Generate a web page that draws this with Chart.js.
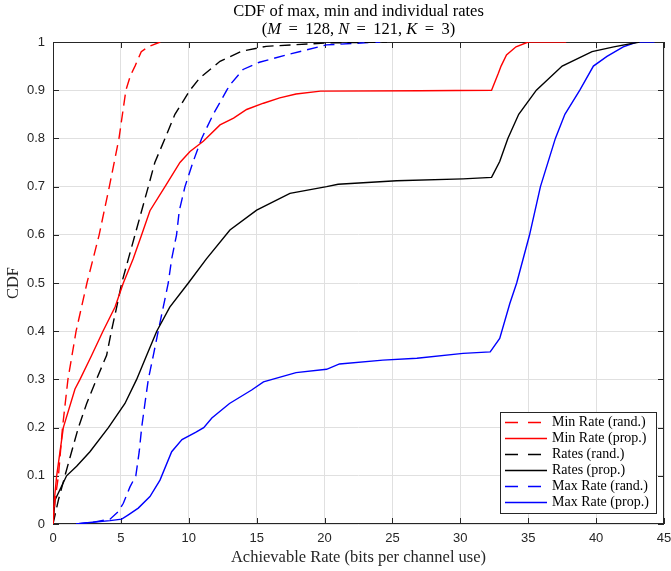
<!DOCTYPE html>
<html>
<head>
<meta charset="utf-8">
<script src="https://cdn.jsdelivr.net/npm/chart.js@4.4.1/dist/chart.umd.min.js"></script>
<style>
    html, body { margin: 0; padding: 0; background: #fff; }
    #wrap { width: 671px; height: 571px; }
</style>
</head>
<body>
<div id="wrap"><canvas id="cdfChart" width="671" height="571"></canvas></div>
<script>
// values (x = rate, y = CDF)
const minRandX = [0, 0.15, 0.4, 0.7, 1.1, 1.7, 2.5, 3.4, 4.15, 4.86, 5.37, 5.7, 6.04, 6.5, 7.0, 7.9];
const minRandY = [0, 0.05, 0.1, 0.2, 0.3, 0.4, 0.5, 0.6, 0.7, 0.8, 0.9, 0.93, 0.95, 0.98, 0.99, 1.0];

const minPropX = [0, 0.1, 0.27, 0.76, 1.62, 1.99, 2.85, 3.68, 4.57, 5.18, 5.9, 6.53, 7.14, 8.25, 9.35, 10.09, 11.07, 12.3, 13.3, 14.26, 15.5, 16.7, 17.9, 19.7, 27.0, 32.3, 32.8, 33.0, 33.4, 34.1, 35.0, 37.8];
const minPropY = [0, 0.05, 0.1, 0.2, 0.28, 0.3, 0.35, 0.4, 0.45, 0.5, 0.55, 0.6, 0.65, 0.7, 0.75, 0.773, 0.794, 0.828, 0.842, 0.86, 0.873, 0.884, 0.892, 0.898, 0.899, 0.9, 0.935, 0.95, 0.973, 0.99, 1.0, 1.0];

const ratesRandX = [0, 0.4, 0.88, 1.37, 1.87, 2.48, 3.2, 3.95, 4.3, 4.69, 5.06, 5.55, 6.04, 6.53, 7.02, 7.5, 8.25, 8.98, 10.09, 10.8, 12.3, 13.9, 15.7, 20.15, 24.6];
const ratesRandY = [0, 0.05, 0.1, 0.15, 0.2, 0.25, 0.3, 0.35, 0.4, 0.45, 0.5, 0.55, 0.6, 0.65, 0.7, 0.75, 0.8, 0.85, 0.9, 0.925, 0.96, 0.981, 0.991, 0.998, 1.0];

const ratesPropX = [0, 0.15, 1.0, 1.74, 2.72, 4.08, 5.3, 6.16, 6.9, 7.64, 8.6, 9.97, 11.3, 13.03, 15.0, 17.45, 20.15, 21.0, 25.3, 30.2, 32.3, 32.9, 33.5, 34.3, 35.6, 37.5, 39.7, 41.3, 43.2];
const ratesPropY = [0, 0.05, 0.1, 0.12, 0.15, 0.2, 0.25, 0.3, 0.35, 0.4, 0.45, 0.5, 0.55, 0.61, 0.651, 0.686, 0.7, 0.705, 0.712, 0.716, 0.719, 0.752, 0.8, 0.85, 0.9, 0.95, 0.98, 0.99, 1.0];

const maxRandX = [1.7, 3.0, 4.2, 4.81, 5.18, 5.67, 6.1, 6.35, 6.53, 6.77, 7.02, 7.39, 7.75, 8.12, 8.49, 8.74, 9.1, 9.3, 9.72, 10.3, 10.95, 11.8, 12.8, 13.03, 14.0, 15.2, 17.45, 20.15, 24.1];
const maxRandY = [0, 0.004, 0.01, 0.026, 0.043, 0.077, 0.1, 0.15, 0.2, 0.25, 0.3, 0.35, 0.4, 0.45, 0.5, 0.55, 0.6, 0.65, 0.7, 0.75, 0.8, 0.85, 0.9, 0.911, 0.943, 0.958, 0.975, 0.994, 1.0];

const maxPropX = [1.7, 2.72, 4.2, 5.06, 5.55, 6.28, 7.14, 7.88, 8.74, 9.5, 10.5, 11.1, 11.7, 13.0, 14.63, 15.5, 17.9, 20.15, 21.1, 24.3, 26.8, 30.2, 32.2, 32.9, 33.65, 34.15, 35.1, 35.9, 37.0, 37.7, 38.8, 39.8, 40.8, 42.0, 43.0, 44.3];
const maxPropY = [0, 0.003, 0.007, 0.01, 0.019, 0.033, 0.057, 0.091, 0.15, 0.175, 0.19, 0.2, 0.22, 0.25, 0.278, 0.295, 0.314, 0.321, 0.332, 0.34, 0.344, 0.354, 0.357, 0.385, 0.458, 0.5, 0.6, 0.7, 0.8, 0.85, 0.9, 0.95, 0.97, 0.99, 1.0, 1.0];

const seriesLabels = ['Min Rate (rand.)', 'Min Rate (prop.)', 'Rates (rand.)', 'Rates (prop.)', 'Max Rate (rand.)', 'Max Rate (prop.)'];
const xTicks = [0, 5, 10, 15, 20, 25, 30, 35, 40, 45];
const yTicks = [0, 0.1, 0.2, 0.3, 0.4, 0.5, 0.6, 0.7, 0.8, 0.9, 1];

// title pieces: [text, italic?]
const titleLine1 = 'CDF of max, min and individual rates';
const titleLine2 = [['(', false], ['M', true], [' \u2009=\u2009 128, ', false], ['N', true], [' \u2009=\u2009 121, ', false], ['K', true], [' \u2009=\u2009 3)', false]];

const serif = '"Liberation Serif", "DejaVu Serif", serif';
const sans = '"Liberation Sans", Arial, sans-serif';
const axisColor = '#262626';
const dashed = [11, 6];

function toPoints(xs, ys) {
    return xs.map((x, i) => ({ x: x, y: ys[i] }));
}

const styles = [
    { color: '#ff0000', dash: dashed },
    { color: '#ff0000', dash: [] },
    { color: '#000000', dash: dashed },
    { color: '#000000', dash: [] },
    { color: '#0000ff', dash: dashed },
    { color: '#0000ff', dash: [] }
];
const seriesData = [
    toPoints(minRandX, minRandY),
    toPoints(minPropX, minPropY),
    toPoints(ratesRandX, ratesRandY),
    toPoints(ratesPropX, ratesPropY),
    toPoints(maxRandX, maxRandY),
    toPoints(maxPropX, maxPropY)
];

const datasets = seriesData.map((pts, i) => ({
    label: seriesLabels[i],
    data: pts,
    borderColor: styles[i].color,
    borderDash: styles[i].dash,
    borderWidth: 1.4,
    pointRadius: 0,
    fill: false,
    tension: 0
}));

// title drawn by hand so the math letters can be italic
const mathTitle = {
    id: 'mathTitle',
    afterDraw(chart) {
        const { ctx, chartArea: a } = chart;
        const cx = (a.left + a.right) / 2;
        ctx.save();
        ctx.fillStyle = '#000';
        ctx.textBaseline = 'middle';
        ctx.textAlign = 'center';
        ctx.font = '16.5px ' + serif;
        ctx.fillText(titleLine1, cx, 12);

        ctx.textAlign = 'left';
        let total = 0;
        titleLine2.forEach(([t, it]) => {
            ctx.font = (it ? 'italic ' : '') + '16.5px ' + serif;
            total += ctx.measureText(t).width;
        });
        let x = cx - total / 2;
        titleLine2.forEach(([t, it]) => {
            ctx.font = (it ? 'italic ' : '') + '16.5px ' + serif;
            ctx.fillText(t, x, 30);
            x += ctx.measureText(t).width;
        });
        ctx.restore();
    }
};

// MATLAB style box with inward ticks on all four sides
const axesBox = {
    id: 'axesBox',
    beforeDatasetsDraw(chart) {
        const { ctx, chartArea: a, scales } = chart;
        const len = 6;
        ctx.save();
        ctx.strokeStyle = axisColor;
        ctx.lineWidth = 1;
        ctx.beginPath();
        scales.x.ticks.forEach(t => {
            const px = Math.round(scales.x.getPixelForValue(t.value)) + 0.5;
            ctx.moveTo(px, a.bottom); ctx.lineTo(px, a.bottom - len);
            ctx.moveTo(px, a.top); ctx.lineTo(px, a.top + len);
        });
        scales.y.ticks.forEach(t => {
            const py = Math.round(scales.y.getPixelForValue(t.value)) + 0.5;
            ctx.moveTo(a.left, py); ctx.lineTo(a.left + len, py);
            ctx.moveTo(a.right, py); ctx.lineTo(a.right - len, py);
        });
        ctx.stroke();
        ctx.strokeRect(a.left + 0.5, a.top + 0.5, a.width - 1, a.height - 1);
        ctx.restore();
    }
};

// legend box inside the lower right corner
const boxLegend = {
    id: 'boxLegend',
    afterDatasetsDraw(chart) {
        const { ctx, chartArea: a } = chart;
        const w = 156, h = 101, rowH = 16.1;
        const x0 = a.right - 8 - w, y0 = a.bottom - 11 - h;
        ctx.save();
        ctx.fillStyle = '#fff';
        ctx.fillRect(x0, y0, w, h);
        ctx.strokeStyle = axisColor;
        ctx.lineWidth = 1;
        ctx.strokeRect(x0 + 0.5, y0 + 0.5, w, h);
        chart.data.datasets.forEach((ds, i) => {
            const y = Math.round(y0 + 9.7 + i * rowH) + 0.5;
            ctx.strokeStyle = ds.borderColor;
            ctx.lineWidth = 1.4;
            ctx.setLineDash(ds.borderDash.length ? [13, 10] : []);
            ctx.beginPath();
            ctx.moveTo(x0 + 5, y);
            ctx.lineTo(x0 + 47, y);
            ctx.stroke();
            ctx.setLineDash([]);
            ctx.fillStyle = '#000';
            ctx.font = '14px ' + serif;
            ctx.textBaseline = 'middle';
            ctx.fillText(ds.label, x0 + 52, y);
        });
        ctx.restore();
    }
};

const ctx = document.getElementById('cdfChart').getContext('2d');
const cdfChart = new Chart(ctx, {
    type: 'line',
    data: { datasets: datasets },
    options: {
        responsive: false,
        animation: false,
        layout: { padding: { left: 0, right: 7, top: 42, bottom: 0 } },
        plugins: {
            legend: { display: false },
            title: { display: false },
            tooltip: { enabled: false }
        },
        scales: {
            x: {
                type: 'linear',
                min: 0,
                max: 45,
                afterBuildTicks: s => { s.ticks = xTicks.map(v => ({ value: v })); },
                ticks: {
                    color: axisColor,
                    font: { family: sans, size: 13 },
                    padding: 7,
                    maxRotation: 0,
                    callback: v => String(v)
                },
                grid: { color: '#e0e0e0', drawTicks: false },
                border: { display: false },
                title: {
                    display: true,
                    text: 'Achievable Rate (bits per channel use)',
                    color: axisColor,
                    font: { family: serif, size: 16.5 },
                    padding: { top: 0, bottom: 3 }
                },
                afterFit: s => { s.height = 47; s.paddingLeft = 0; s.paddingRight = 0; }
            },
            y: {
                type: 'linear',
                min: 0,
                max: 1,
                afterBuildTicks: s => { s.ticks = yTicks.map(v => ({ value: v })); },
                ticks: {
                    color: axisColor,
                    font: { family: sans, size: 13 },
                    padding: 8,
                    callback: v => String(Math.round(v * 10) / 10)
                },
                grid: { color: '#e0e0e0', drawTicks: false },
                border: { display: false },
                title: {
                    display: true,
                    text: 'CDF',
                    color: axisColor,
                    font: { family: serif, size: 16.5 },
                    padding: { top: 4, bottom: 0 }
                },
                afterFit: s => { s.width = 53; s.paddingTop = 0; s.paddingBottom = 0; }
            }
        }
    },
    plugins: [axesBox, boxLegend, mathTitle]
});
</script>
</body>
</html>
